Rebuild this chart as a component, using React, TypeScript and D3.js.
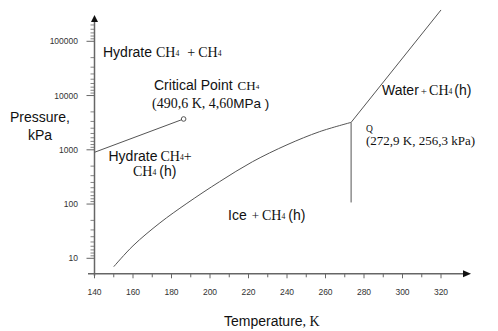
import React from "react";
import * as d3 from "d3";

const xTicks = [140, 160, 180, 200, 220, 240, 260, 280, 300, 320];
const xMinorTicks = [150, 170, 190, 210, 230, 250, 270, 290, 310];
const yTicks = [10, 100, 1000, 10000, 100000];
const yTickLabels = ["10", "100", "1000", "10000", "100000"];

const hydrateIceT = [150, 160, 174, 188, 205, 222, 240, 257, 273.3];
const hydrateIceP = [7, 17, 45, 103, 259, 601, 1236, 2163, 3200];
const hydrateGasT = [140, 186.3];
const hydrateGasP = [900, 3700];
const waterLineT = [273.3, 320];
const waterLineP = [3200, 378000];
const iceWaterT = [273.3, 273.3];
const iceWaterP = [3200, 107];

const W = 498;
const H = 331;

const x = d3.scaleLinear().domain([140, 320]).range([94.5, 441]);
const y = d3.scaleLog().domain([10, 100000]).range([258.3, 41.3]);

const SANS = "Arial, 'Liberation Sans', sans-serif";
const SERIF = "'Times New Roman', 'Liberation Serif', serif";
const LINE = "#555";
const AXIS = "#666";

// "CH" + small "4"; the element following it must reset dy by +1
function CH4({ size = 14, dx = 0 }: { size?: number; dx?: number }) {
  return (
    <>
      <tspan dx={dx} fontFamily={SERIF} fontSize={size}>CH</tspan>
      <tspan fontFamily={SERIF} fontSize={size * 0.55} dy={-1}>4</tspan>
    </>
  );
}

export default function App() {
  const line = d3
    .line<[number, number]>()
    .x((d) => x(d[0]))
    .y((d) => y(d[1]));
  const curve = d3
    .line<[number, number]>()
    .x((d) => x(d[0]))
    .y((d) => y(d[1]))
    .curve(d3.curveCatmullRom.alpha(0.5));

  const zip = (a: number[], b: number[]) => a.map((v, i) => [v, b[i]] as [number, number]);

  const axisY = x(140);
  const axisX = 273.8;
  const yTop = 15;
  const xRight = 471;

  const yMinor: number[] = [];
  const decades = [1, 10, 100, 1000, 10000, 100000];
  decades.forEach((d) => {
    for (let k = 2; k <= 9; k++) {
      const v = (d * 10) / k;
      const py = y(v);
      if (py <= axisX && py >= yTop + 8) yMinor.push(py);
    }
  });

  return (
    <svg
      width={W}
      height={H}
      style={{ position: "absolute", left: 0, top: 0, background: "#fff" }}
    >
      <rect width={W} height={H} fill="#fff" />
      {/* axes */}
      <line x1={axisY} x2={axisY} y1={axisX + 2} y2={yTop + 6} stroke={AXIS} strokeWidth={1.5} />
      <path d={`M${axisY},${yTop} L${axisY - 3.5},${yTop + 7} L${axisY + 3.5},${yTop + 7} Z`} fill="#111" />
      <line x1={88} x2={xRight - 6} y1={axisX} y2={axisX} stroke={AXIS} strokeWidth={1.5} />
      <path d={`M${xRight},${axisX} L${xRight - 8},${axisX - 3.5} L${xRight - 8},${axisX + 3.5} Z`} fill="#111" />

      {xTicks.map((t) => (
        <g key={"xt" + t}>
          <line x1={x(t)} x2={x(t)} y1={axisX} y2={axisX + 4.5} stroke={AXIS} strokeWidth={1} />
          <text x={x(t)} y={axisX + 21} fontFamily={SANS} fontSize={8.5} fill="#333" textAnchor="middle">
            {t}
          </text>
        </g>
      ))}
      {xMinorTicks.map((t) => (
        <line key={"xm" + t} x1={x(t)} x2={x(t)} y1={axisX} y2={axisX + 3.5} stroke={AXIS} strokeWidth={1} />
      ))}

      {yTicks.map((t, i) => (
        <g key={"yt" + t}>
          <line x1={axisY - 8} x2={axisY} y1={y(t)} y2={y(t)} stroke={AXIS} strokeWidth={1} />
          <text x={78} y={y(t) + 3} fontFamily={SANS} fontSize={8.5} fill="#333" textAnchor="end">
            {yTickLabels[i]}
          </text>
        </g>
      ))}
      {yMinor.map((py, i) => (
        <line key={"ym" + i} x1={axisY - 4} x2={axisY} y1={py} y2={py} stroke={AXIS} strokeWidth={0.8} />
      ))}

      {/* phase boundaries */}
      <path d={curve(zip(hydrateIceT, hydrateIceP)) || ""} fill="none" stroke={LINE} strokeWidth={1} />
      <path d={line(zip(hydrateGasT, hydrateGasP)) || ""} fill="none" stroke={LINE} strokeWidth={1} />
      <path d={line(zip(waterLineT, waterLineP)) || ""} fill="none" stroke={LINE} strokeWidth={1} />
      <path d={line(zip(iceWaterT, iceWaterP)) || ""} fill="none" stroke={LINE} strokeWidth={1} />
      <circle
        cx={x(hydrateGasT[1])}
        cy={y(hydrateGasP[1])}
        r={2.3}
        fill="#fff"
        stroke={LINE}
        strokeWidth={1}
      />

      {/* labels */}
      <text x={103} y={56.5} fill="#111" fontFamily={SANS} fontSize={14}>
        <tspan>Hydrate</tspan>
        <CH4 dx={4} />
        <tspan dx={8} dy={1} fontFamily={SERIF} fontSize={14}>+</tspan>
        <CH4 dx={3} />
      </text>
      <text x={154} y={90} fill="#111" fontFamily={SANS} fontSize={14}>
        <tspan>Critical Point</tspan>
        <CH4 dx={5} size={13} />
      </text>
      <text x={152} y={107.5} fill="#111" fontFamily={SERIF} fontSize={14}>
        (490,6 K, 4,60<tspan fontFamily={SANS} fontSize={13.5}>MPa )</tspan>
      </text>
      <text x={40} y={122} fill="#111" fontFamily={SANS} fontSize={14} textAnchor="middle">
        Pressure,
      </text>
      <text x={40} y={140} fill="#111" fontFamily={SANS} fontSize={14} textAnchor="middle">
        kPa
      </text>
      <text x={108.5} y={160.5} fill="#111" fontFamily={SANS} fontSize={14}>
        <tspan>Hydrate</tspan>
        <CH4 dx={3} />
        <tspan dy={1} fontFamily={SERIF} fontSize={14}>+</tspan>
      </text>
      <text x={133} y={176} fill="#111" fontFamily={SANS} fontSize={14}>
        <CH4 />
        <tspan dx={3} dy={1}>(h)</tspan>
      </text>
      <text x={228} y={220} fill="#111" fontFamily={SANS} fontSize={14}>
        <tspan>Ice</tspan>
        <tspan dx={5} fontFamily={SERIF} fontSize={13}>+</tspan>
        <CH4 dx={3} />
        <tspan dx={3} dy={1}>(h)</tspan>
      </text>
      <text x={382} y={95} fill="#111" fontFamily={SANS} fontSize={14}>
        <tspan>Water</tspan>
        <tspan dx={2} fontFamily={SERIF} fontSize={11}>+</tspan>
        <CH4 dx={2} />
        <tspan dx={2} dy={1}>(h)</tspan>
      </text>
      <text x={366} y={131.5} fill="#111" fontFamily={SERIF} fontSize={9.5}>
        Q
      </text>
      <text x={366} y={145} fill="#111" fontFamily={SERIF} fontSize={13}>
        (272,9 K, 256,3 kPa)
      </text>
      <text x={224} y={326} fill="#111" fontFamily={SANS} fontSize={14}>
        Temperature<tspan fontFamily={SERIF} fontSize={14}>, K</tspan>
      </text>
    </svg>
  );
}
